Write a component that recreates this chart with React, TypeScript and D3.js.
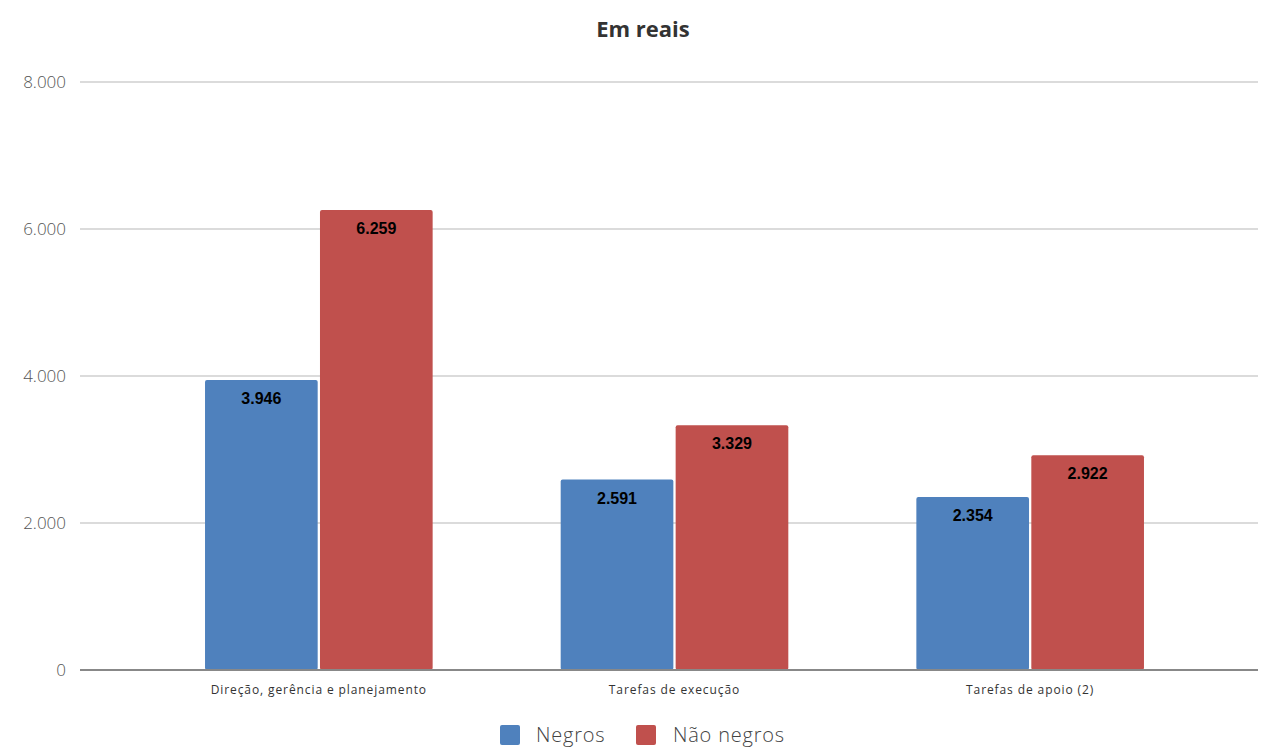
import React from "react";
import * as d3 from "d3";

const categories = ["Direção, gerência e planejamento", "Tarefas de execução", "Tarefas de apoio (2)"];
const seriesNames = ["Negros", "Não negros"];
const negros = [3946, 2591, 2354];
const naoNegros = [6259, 3329, 2922];
const yTicks = [0, 2000, 4000, 6000, 8000];
const colors = ["#4F81BD", "#C0504D"];

const W = 1261;
const H = 747;

export default function App() {
  const y = d3.scaleLinear().domain([0, 8000]).range([670, 82]);
  const x0 = d3.scaleBand<string>().domain(categories).range([141, 1208]).paddingInner(0.36).paddingOuter(0.18);
  const x1 = d3.scaleBand<string>().domain(seriesNames).range([0, x0.bandwidth()]).paddingInner(0.02);
  const fmt = (v: number) => d3.format(",")(v).replace(/,/g, ".");
  const values = [negros, naoNegros];

  return (
    <svg width={W} height={H} style={{ position: "absolute", left: 0, top: 0, background: "#fff" }}>
      <text x={643} y={37} textAnchor="middle" fontFamily="'Open Sans', sans-serif" fontWeight="bold" fontSize={22} fill="#333">
        Em reais
      </text>
      {yTicks.map((t) => (
        <g key={t}>
          {t !== 0 && <line x1={80} x2={1258} y1={y(t)} y2={y(t)} stroke="#cfcfcf" strokeWidth={1.5} />}
          <text x={66} y={y(t) + 6} textAnchor="end" fontFamily="'Open Sans', sans-serif" fontSize={17} fill="#555" fontWeight={300}>
            {fmt(t)}
          </text>
        </g>
      ))}
      {categories.map((c, i) => (
        <g key={c} transform={`translate(${x0(c)},0)`}>
          {seriesNames.map((s, j) => {
            const v = values[j][i];
            const bx = x1(s)!;
            const bw = x1.bandwidth();
            return (
              <g key={s}>
                <rect x={bx} y={y(v)} width={bw} height={y(0) - y(v)} fill={colors[j]} rx={2} />
                <text x={bx + bw / 2} y={y(v) + 24} textAnchor="middle" fontFamily="'Liberation Sans', Arial, sans-serif" fontWeight="bold" fontSize={16} fill="#000">
                  {fmt(v)}
                </text>
              </g>
            );
          })}
          <text x={x0.bandwidth() / 2} y={694} textAnchor="middle" fontFamily="'Open Sans', sans-serif" fontSize={12} letterSpacing={0.9} fill="#333">
            {c}
          </text>
        </g>
      ))}
      <line x1={80} x2={1258} y1={y(0)} y2={y(0)} stroke="#888" strokeWidth={2} />
      <g fontFamily="'Open Sans', sans-serif" fontSize={20} fill="#444" fontWeight={300} letterSpacing={0.8}>
        <rect x={500} y={725} width={20} height={20} fill={colors[0]} rx={2} />
        <text x={536} y={742}>{seriesNames[0]}</text>
        <rect x={636} y={725} width={20} height={20} fill={colors[1]} rx={2} />
        <text x={673} y={742}>{seriesNames[1]}</text>
      </g>
    </svg>
  );
}
